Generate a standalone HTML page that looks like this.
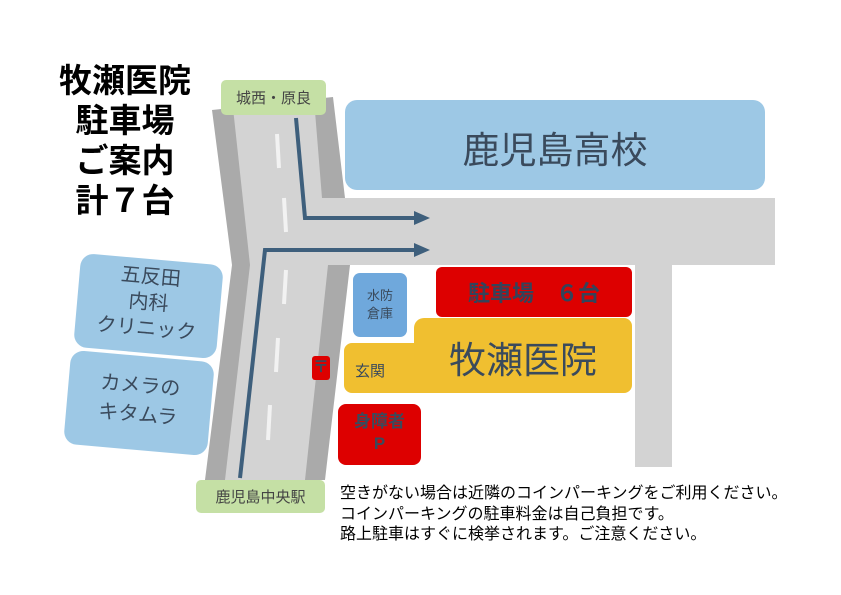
<!DOCTYPE html>
<html><head><meta charset="utf-8"><style>
html,body{margin:0;padding:0;background:#fff;}
body{width:841px;height:595px;position:relative;overflow:hidden;font-family:"Liberation Sans","Noto Sans CJK JP",sans-serif;}
.t{position:absolute;white-space:nowrap;}
</style></head><body>
<svg width="841" height="595" style="position:absolute;left:0;top:0" xmlns="http://www.w3.org/2000/svg">
 <polygon points="212,110 333,97 345,198 775,198 775,265 672,265 672,467 635,467 635,265 350,265 325,480 205,480 232,265" fill="#aaaaaa"/>
 <polygon points="233,108 314,99 322,198 775,198 775,265 672,265 672,467 635,467 635,265 328,265 305,480 225,480 250,265" fill="#d3d3d3"/>
 <g stroke="#f2f2f2" stroke-width="4">
  <line x1="277" y1="134" x2="279" y2="168"/>
  <line x1="284" y1="198" x2="286" y2="232"/>
  <line x1="286" y1="270" x2="284" y2="304"/>
  <line x1="278" y1="338" x2="276" y2="372"/>
  <line x1="270" y1="405" x2="268" y2="440"/>
 </g>
 <g stroke="#3e5f7c" stroke-width="4" fill="none">
  <polyline points="296,118 305,218 416,218"/>
  <polyline points="240,478 265,250 416,250"/>
 </g>
 <polygon points="414,211 430,218 414,225" fill="#3e5f7c"/>
 <polygon points="414,243 430,250 414,257" fill="#3e5f7c"/>
 <rect x="221" y="80" width="105" height="35" rx="5" fill="#c5e0a5"/>
 <rect x="345" y="100" width="420" height="90" rx="12" fill="#9dc8e5"/>
 <rect x="353" y="273" width="54" height="64" rx="7" fill="#6fa8dc"/>
 <rect x="436" y="267" width="196" height="50" rx="6" fill="#dd0000"/>
 <path d="M424,318 H624 a8,8 0 0 1 8,8 V385 a8,8 0 0 1 -8,8 H352 a8,8 0 0 1 -8,-8 V351 a8,8 0 0 1 8,-8 H414 V328 a10,10 0 0 1 10,-10 Z" fill="#f0bf30"/>
 <rect x="338" y="404" width="83" height="61" rx="8" fill="#dd0000"/>
 <rect x="312" y="356" width="18" height="24" rx="3" fill="#dd0000"/>
 <rect x="196" y="480" width="129" height="33" rx="5" fill="#c5e0a5"/>
 <g transform="rotate(5 148 306)"><rect x="77" y="259" width="143" height="94" rx="13" fill="#9dc8e5"/></g>
 <g transform="rotate(5 139 403)"><rect x="67" y="356" width="144" height="94" rx="13" fill="#9dc8e5"/></g>
</svg>
<div class="t" style="left:40px;top:61px;width:170px;text-align:center;font-size:33px;font-weight:bold;line-height:40px;color:#000">牧瀬医院<br>駐車場<br>ご案内<br>計７台</div>
<div class="t" style="left:221px;top:87px;width:105px;text-align:center;font-size:15px;color:#444">城西・原良</div>
<div class="t" style="left:345px;top:120px;width:420px;text-align:center;font-size:37px;color:#3a4a5c">鹿児島高校</div>
<div class="t" style="left:353px;top:287px;width:54px;text-align:center;font-size:13px;line-height:18px;color:#3a4a5c">水防<br>倉庫</div>
<div class="t" style="left:436px;top:276px;width:196px;text-align:center;font-size:22px;font-weight:bold;color:#34435a">駐車場　６台</div>
<div class="t" style="left:414px;top:330px;width:218px;text-align:center;font-size:37px;color:#3a4a5c">牧瀬医院</div>
<div class="t" style="left:355px;top:360px;font-size:15px;color:#3a4a5c">玄関</div>
<div class="t" style="left:338px;top:411px;width:83px;text-align:center;font-size:17px;font-weight:bold;line-height:22px;color:#3a4a5c">身障者<br>P</div>
<div class="t" style="left:312px;top:356px;width:18px;text-align:center;font-size:16px;font-weight:bold;line-height:24px;color:#3a4a5c">〒</div>
<div class="t" style="left:196px;top:486px;width:129px;text-align:center;font-size:15px;color:#444">鹿児島中央駅</div>
<div class="t" style="left:77px;top:264px;width:143px;text-align:center;font-size:20px;line-height:26px;color:#3a4a5c;transform:rotate(5deg)">五反田<br>内科<br>クリニック</div>
<div class="t" style="left:67px;top:372px;width:144px;text-align:center;font-size:20px;line-height:29px;color:#3a4a5c;transform:rotate(5deg)">カメラの<br>キタムラ</div>
<div class="t" style="left:340px;top:484px;font-size:16px;line-height:20.5px;color:#000">空きがない場合は近隣のコインパーキングをご利用ください。<br>コインパーキングの駐車料金は自己負担です。<br>路上駐車はすぐに検挙されます。ご注意ください。</div>
</body></html>
